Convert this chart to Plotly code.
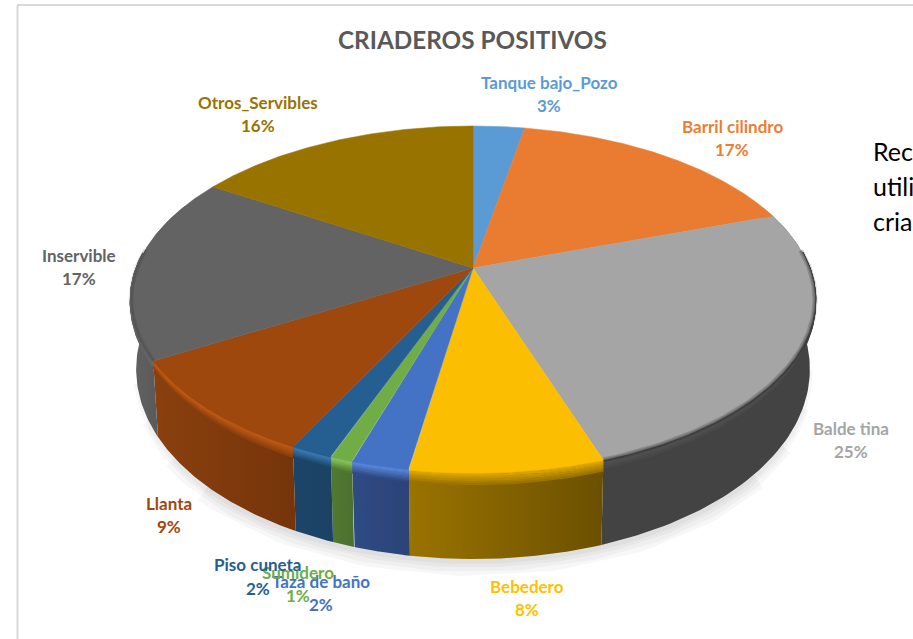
import numpy as np
import plotly.graph_objects as go

# ---- data ----
categories = ["Tanque bajo_Pozo", "Barril cilindro", "Balde tina", "Bebedero", "Taza de baño",
              "Sumidero", "Piso cuneta", "Llanta", "Inservible", "Otros_Servibles"]
values = [2.9, 16.8, 25.1, 7.7, 2.3, 0.9, 1.7, 9.2, 17.3, 16.1]

# ---- styles ----
top_colors = ["#5B9BD5", "#E97C30", "#A5A5A5", "#FBBE00", "#4472C4",
              "#70AD47", "#255E91", "#9E480E", "#636363", "#997300"]
label_colors = ["#5B9BD5", "#ED7D31", "#A5A5A5", "#FFC000", "#4472C4",
                "#70AD47", "#255E91", "#9E480E", "#636363", "#997300"]
wall_left = ["#3a5f80", "#8a4a1d", "#434343", "#9A7300", "#2F4B85",
             "#507A30", "#1B4568", "#8A400E", "#626262", "#5c4500"]
wall_right = ["#3a5f80", "#8a4a1d", "#434343", "#6B5000", "#2B4375",
              "#4C7030", "#1B4265", "#75340A", "#4F4F4F", "#5c4500"]
rim_colors = ["#5B9BD5", "#E97C30", "#555555", "#E5AC00", "#5B8BE0",
              "#8CC860", "#3B7DB5", "#C05A15", "#707070", "#997300"]
label_pos = [(549, 82, 105), (732, 126, 149), (851, 428, 451), (527, 586, 609), (321, 581, 604),
             (298, 572, 595), (258, 564, 588), (169, 503, 526), (79, 255, 278), (258, 102, 125)]

# ---- projection of the tilted disc ----
CX, CY, A, B, K = 473.0, 268.0, 167.8, 336.3, 0.1816
FONT = "Lato, Carlito, Calibri, sans-serif"


def project(theta):
    u, v = np.sin(theta), np.cos(theta)
    w = 1 + K * v
    return CX + B * u / w, CY - A * v / w, v


def lower(x, y, v):
    return CX + (x - CX) * 0.985, y + 66 + 20 * np.maximum(-v, 0)


def mix(c1, c2, t):
    a = [int(c1[i:i + 2], 16) for i in (1, 3, 5)]
    b = [int(c2[i:i + 2], 16) for i in (1, 3, 5)]
    return "#%02x%02x%02x" % tuple(round(p + (q - p) * t) for p, q in zip(a, b))


fractions = np.cumsum([0] + values) / sum(values)
fig = go.Figure()

# soft shadow below the bottom rim, narrower bands reach less far round the disc
sx, sy, sv = project(np.radians(np.linspace(100, 256, 200)))
lx, ly = lower(sx, sy, sv)
for width, off, trim in [(26, 4, 40), (18, 4, 28), (11, 3, 14), (6, 2, 0)]:
    sel = slice(trim, len(lx) - trim)
    fig.add_trace(go.Scatter(x=lx[sel], y=ly[sel] + off, mode="lines",
                             line=dict(color="rgba(0,0,0,0.03)", width=width), hoverinfo="skip"))

# side walls
for i in range(len(values)):
    th = 2 * np.pi * np.linspace(fractions[i], fractions[i + 1], 80)
    x, y, v = project(th)
    keep = v < 0.4
    if keep.sum() < 2:
        continue
    x, y, v = x[keep], y[keep], v[keep]
    bx, by = lower(x, y, v)
    fig.add_trace(go.Scatter(
        x=np.r_[x, bx[::-1], x[0]], y=np.r_[y, by[::-1], y[0]], mode="lines", fill="toself",
        line=dict(width=0), hoverinfo="skip",
        fillgradient=dict(type="horizontal",
                          colorscale=[[0, wall_left[i]], [1, wall_right[i]]])))

# bevel along the front rim
for i in range(len(values)):
    th = 2 * np.pi * np.linspace(fractions[i], fractions[i + 1], 80)
    x, y, v = project(th)
    keep = v < 0.1
    if keep.sum() < 2:
        continue
    x, y, v = x[keep], y[keep], v[keep]
    for t in (1.0, 0.8, 0.6, 0.4, 0.2, 0.0):
        fig.add_trace(go.Scatter(
            x=x, y=y + t * 11 * np.maximum(-v, 0.1), mode="lines", hoverinfo="skip",
            line=dict(color=mix(rim_colors[i], wall_left[i], t), width=2.5)))

# top faces
for i in range(len(values)):
    th = 2 * np.pi * np.linspace(fractions[i], fractions[i + 1], 160)
    x, y, _ = project(th)
    fig.add_trace(go.Scatter(
        x=np.r_[CX, x, CX], y=np.r_[CY, y, CY], mode="lines", fill="toself",
        fillcolor=top_colors[i], line=dict(color=top_colors[i], width=0.5),
        name=categories[i], hoverinfo="name"))

# dark soft edge on the grey faces, only where the disc turns toward the viewer
for i, alpha in [(2, 0.16), (8, 0.08)]:
    th = 2 * np.pi * np.linspace(fractions[i], fractions[i + 1], 120)
    x, y, v = project(th)
    keep = v < 0.12
    for width in (5, 2.5):
        fig.add_trace(go.Scatter(x=x[keep], y=y[keep], mode="lines", hoverinfo="skip",
                                 line=dict(color=f"rgba(0,0,0,{alpha})", width=width)))

# labels
ann = []
for name, val, col, (lx0, y1, y2) in zip(categories, values, label_colors, label_pos):
    ann.append(dict(x=lx0, y=y1, text=f"<b>{name}</b>", font=dict(family=FONT, size=17, color=col)))
    ann.append(dict(x=lx0, y=y2, text=f"<b>{round(val)}%</b>", font=dict(family=FONT, size=17, color=col)))
ann.append(dict(x=472, y=39, text="<b>CRIADEROS POSITIVOS</b>",
                font=dict(family=FONT, size=24.3, color="#595959")))
for txt, yy in zip(["Rec", "utili", "cria"], [151, 186, 221]):
    ann.append(dict(x=871, y=yy, text=txt, xanchor="left", font=dict(family=FONT, size=25, color="#000000")))
for a in ann:
    a.update(xref="x", yref="y", showarrow=False, yanchor="middle")
    a.setdefault("xanchor", "center")

fig.update_layout(
    width=913, height=639, margin=dict(l=0, r=0, t=0, b=0), showlegend=False,
    paper_bgcolor="white", plot_bgcolor="white", annotations=ann,
    xaxis=dict(range=[0, 913], visible=False, fixedrange=True),
    yaxis=dict(range=[639, 0], visible=False, fixedrange=True),
    shapes=[dict(type="line", x0=17.5, x1=17.5, y0=5, y1=639, line=dict(color="#D9D9D9", width=2)),
            dict(type="line", x0=17, x1=913, y0=5, y1=5, line=dict(color="#D9D9D9", width=2))],
)
fig.write_html("out.html", config={"displayModeBar": False},
               post_script="document.body.style.margin='0';document.body.style.overflow='hidden';")
